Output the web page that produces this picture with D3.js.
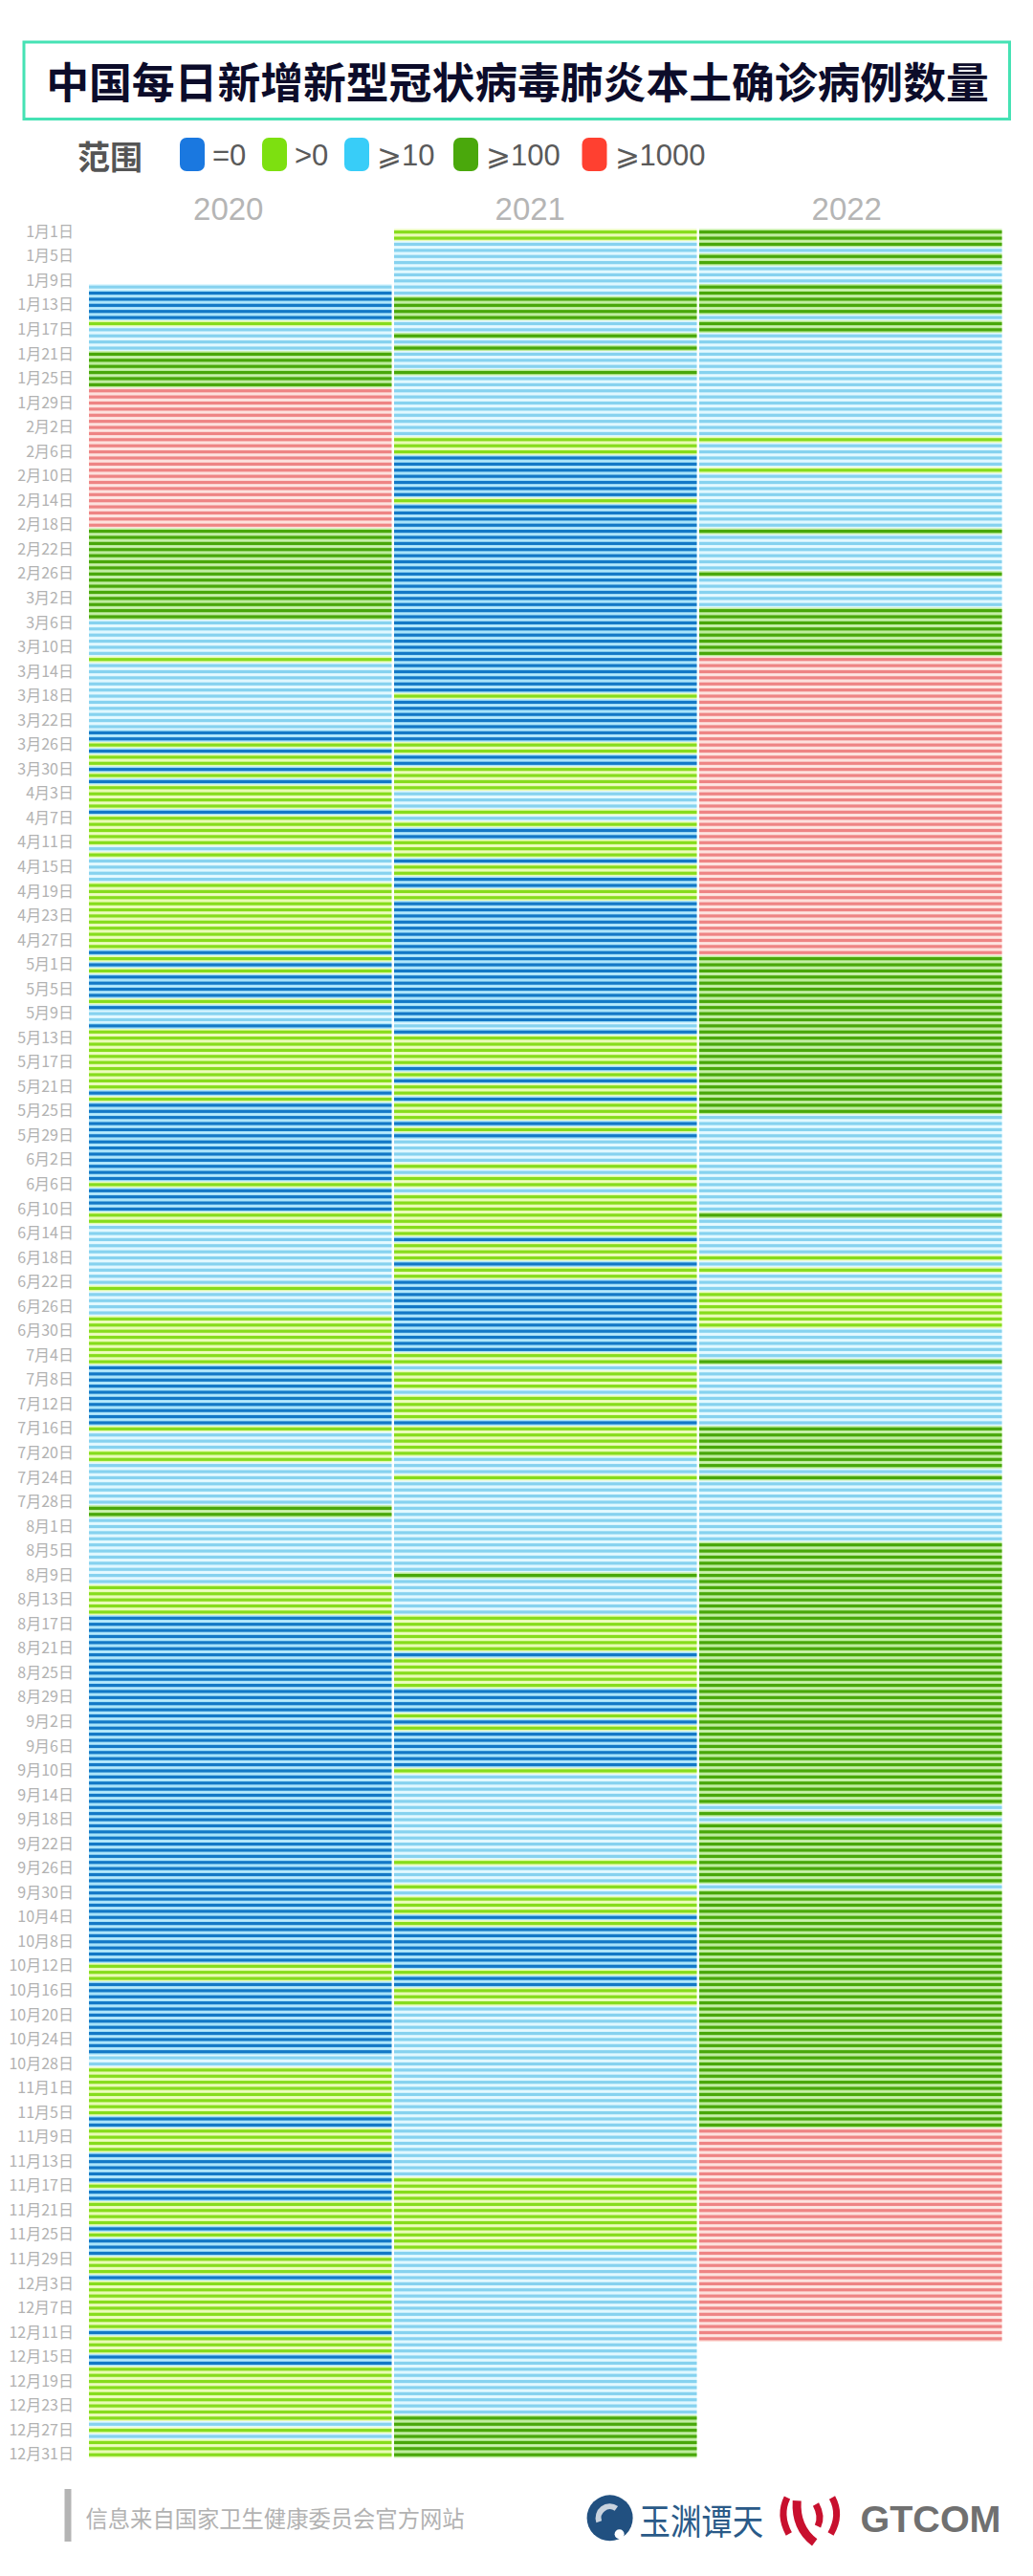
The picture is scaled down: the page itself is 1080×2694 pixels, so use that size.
<!DOCTYPE html>
<html><head><meta charset="utf-8">
<style>html,body{margin:0;padding:0;background:#fff}svg{display:block}</style>
<script src="https://cdn.jsdelivr.net/npm/d3@7"></script>
</head><body><div id="c"></div>
<script>
const title = "中国每日新增新型冠状病毒肺炎本土确诊病例数量";
const source = "信息来自国家卫生健康委员会官方网站";
const years = ["2020","2021","2022"];
const legendLabels = ["=0",">0","⩾10","⩾100","⩾1000"];
const monthLengths = [31,28,31,30,31,30,31,31,30,31,30,31];
// category codes: 0 "=0", 1 ">0", 2 "≥10", 3 "≥100", 4 "≥1000"
// as [first day index, category] change points
const runs2020 = [[9,2],[10,0],[15,1],[16,2],[20,3],[26,4],[49,3],[64,2],[70,1],[71,2],[82,0],[84,1],[85,0],[86,1],[88,0],[89,1],[90,0],[91,1],[95,0],[96,1],[101,2],[102,1],[103,2],[107,1],[118,0],[119,1],[120,0],[121,1],[122,0],[126,1],[127,0],[128,2],[130,0],[131,1],[141,0],[142,1],[143,0],[156,1],[157,0],[161,1],[163,2],[173,1],[174,2],[178,1],[186,0],[196,1],[197,2],[200,1],[202,2],[209,3],[211,2],[222,1],[227,0],[284,1],[287,0],[299,2],[301,1],[309,0],[311,1],[315,0],[320,1],[321,0],[323,1],[327,0],[328,1],[329,0],[332,1],[335,0],[336,1],[344,0],[345,1],[348,0],[350,1],[359,2],[360,1],[361,2],[362,1]];
const runs2021 = [[0,1],[2,2],[11,3],[15,2],[17,3],[18,2],[19,3],[20,2],[23,3],[24,2],[34,1],[37,0],[44,1],[45,0],[76,1],[77,0],[84,1],[86,0],[88,1],[92,2],[95,1],[96,2],[97,1],[98,0],[100,1],[103,0],[104,1],[106,0],[108,1],[110,0],[130,2],[131,0],[132,1],[137,0],[138,1],[139,0],[140,1],[142,0],[143,1],[146,0],[147,1],[148,0],[149,2],[153,1],[154,2],[155,1],[157,2],[158,1],[165,0],[166,1],[169,0],[170,1],[172,0],[184,1],[186,2],[187,1],[190,2],[191,1],[195,0],[196,1],[201,2],[204,1],[205,2],[220,3],[221,2],[227,1],[233,0],[234,1],[239,0],[243,1],[244,0],[245,1],[246,0],[252,1],[253,2],[267,1],[268,2],[271,1],[272,2],[273,1],[276,0],[277,1],[278,0],[285,1],[286,0],[288,1],[291,2],[319,1],[331,2],[358,3]];
const runs2022 = [[0,3],[3,2],[4,3],[6,2],[9,3],[14,2],[15,3],[17,2],[34,1],[35,2],[39,1],[40,2],[49,3],[50,2],[56,3],[57,2],[62,3],[70,4],[119,3],[145,2],[161,3],[162,2],[168,1],[169,2],[170,1],[171,2],[174,1],[180,2],[185,3],[186,2],[196,3],[203,2],[204,3],[205,2],[215,3],[258,2],[259,3],[260,2],[261,3],[271,2],[272,3],[311,4],[346,null]];
const barColors  = ["#1378c6","#86dc1c","#86d2ef","#48a70a","#ee8484"];
const tintColors = ["#a6e3fa","#e8fbb4","#dff8ff","#bdec9c","#fde0dc"];
const swatchColors = ["#1a78e0","#7de010","#38cdf8","#4aa80c","#ff4030"];

const W = 1080, H = 2694;
const svg = d3.select("#c").append("svg").attr("width",W).attr("height",H)
  .attr("viewBox",[0,0,W,H]);
const CJK = "'Noto Sans CJK SC','Noto Sans',sans-serif";
const LAT = "'Liberation Sans','Noto Sans CJK SC',sans-serif";

// header
svg.append("rect").attr("x",25).attr("y",44).attr("width",1030.5).attr("height",80.5)
  .attr("fill","#fff").attr("stroke","#45e2b4").attr("stroke-width",3);
svg.append("text").attr("x",541).attr("y",83).attr("text-anchor","middle").attr("dominant-baseline","central")
  .attr("font-family",CJK).attr("font-weight",700).attr("font-size",44.8).attr("fill","#0c0c2a").text(title);

// legend
svg.append("text").attr("x",81).attr("y",162).attr("dominant-baseline","central")
  .attr("font-family",CJK).attr("font-weight",700).attr("font-size",34).attr("fill","#555").text("范围");
const swatchX = [188,274,360,474,608.5];
const lg = svg.append("g").selectAll("g").data(legendLabels).join("g")
  .attr("transform",(d,i)=>`translate(${swatchX[i]},144)`);
lg.append("rect").attr("width",26).attr("height",35).attr("rx",7).attr("fill",(d,i)=>swatchColors[i]);
lg.append("text").attr("x",34).attr("y",18).attr("dominant-baseline","central")
  .attr("font-family",LAT).attr("font-size",31).attr("fill","#5a5a5a").text(d=>d);

// data
const days = [];
monthLengths.forEach((n,m)=>{ for(let d=1;d<=n;d++) days.push(`${m+1}月${d}日`); });
function expand(runs){
  return runs.flatMap((r,i)=>{
    const end = i+1<runs.length ? runs[i+1][0] : days.length;
    return d3.range(r[0],end).map(k=>({day:days[k],level:r[1]}));
  }).filter(d=>d.level!==null);
}
const series = [runs2020,runs2021,runs2022].map((r,i)=>({year:years[i],cells:expand(r)}));

// scales
const x = d3.scaleBand().domain(years).range([93,1047.5]).paddingInner(0.008);
const y = d3.scaleBand().domain(days).range([239.5,239.5+6.386*365]);
const barH = 3.2;

const col = svg.append("g").selectAll("g").data(series).join("g")
  .attr("transform",d=>`translate(${x(d.year)},0)`);
col.selectAll("rect.t").data(d=>d.cells).join("rect").attr("class","t")
  .attr("y",d=>y(d.day)).attr("width",x.bandwidth()).attr("height",y.bandwidth())
  .attr("fill",d=>tintColors[d.level]);
col.selectAll("rect.b").data(d=>d.cells).join("rect").attr("class","b")
  .attr("y",d=>y(d.day)+(y.bandwidth()-barH)/2).attr("width",x.bandwidth()).attr("height",barH)
  .attr("fill",d=>barColors[d.level]);

// axes
const yAxis = svg.append("g").attr("transform","translate(77,0)")
  .call(d3.axisLeft(y).tickValues(days.filter((d,i)=>i%4===0)).tickSize(0).tickPadding(0));
yAxis.select(".domain").remove();
yAxis.selectAll("text").attr("font-family",CJK).attr("font-size",16).attr("fill","#b2b2b2");

const yearShift = [-12.5,-16,-4];
const xAxis = svg.append("g").attr("transform","translate(0,230)")
  .call(d3.axisTop(x).tickSize(0).tickPadding(0));
xAxis.select(".domain").remove();
xAxis.selectAll("text").attr("font-family",LAT).attr("font-size",33).attr("fill","#b5b5b5")
  .attr("dx",(d,i)=>yearShift[i]);

// footer
svg.append("rect").attr("x",67.5).attr("y",2603).attr("width",7).attr("height",55).attr("fill","#b4b4b4");
svg.append("text").attr("x",89.5).attr("y",2633).attr("dominant-baseline","central")
  .attr("font-family",CJK).attr("font-size",23.3).attr("fill","#b2b2b2").text(source);

// 玉渊谭天 mark
const logo = svg.append("g").attr("transform","translate(637.6,2633.3)");
logo.append("circle").attr("r",24).attr("fill","#215080");
logo.append("path").attr("d",d3.arc()({innerRadius:9,outerRadius:15,startAngle:-1.9,endAngle:0.6})).attr("fill","#c9d3de");
logo.append("circle").attr("cx",10).attr("cy",17).attr("r",5).attr("fill","#fff");
svg.append("text").attr("transform","translate(668.5,2635) scale(1,1.15)").attr("dominant-baseline","central")
  .attr("font-family",CJK).attr("font-size",32.4).attr("fill","#2a5a88").text("玉渊谭天");

// GTCOM mark
const markStrokes = [
  {d:"M823,2612 Q814,2630 824.8,2650",w:7},
  {d:"M870,2612 Q880,2630 868.5,2650",w:7},
  {d:"M833.2,2615.2 Q831.5,2643.7 851.7,2658.8",w:9},
  {d:"M853,2619 Q860,2632 855,2642",w:7}
];
svg.append("g").selectAll("path").data(markStrokes).join("path")
  .attr("d",d=>d.d).attr("fill","none").attr("stroke","#c8102e").attr("stroke-width",d=>d.w);
svg.append("text").attr("x",899.5).attr("y",2634).attr("dominant-baseline","central")
  .attr("font-family",LAT).attr("font-weight",700).attr("font-size",39.5).attr("fill","#707070").text("GTCOM");
</script></body></html>
